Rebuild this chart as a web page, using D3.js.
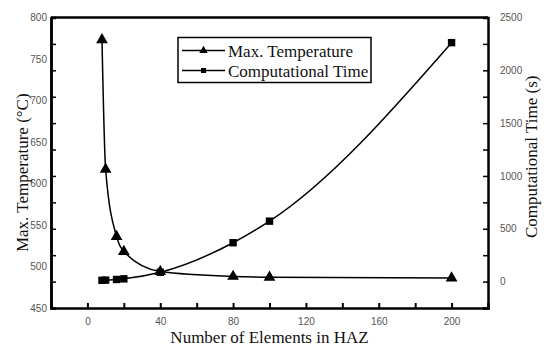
<!DOCTYPE html>
<html>
<head>
<meta charset="utf-8">
<script src="https://cdn.jsdelivr.net/npm/d3@7"></script>
<style>
  body { margin: 0; background: #fff; }
  svg { display: block; }
</style>
</head>
<body>
<svg id="chart" width="550" height="356"></svg>
<script>
// Data
const elements = [8, 10, 16, 20, 40, 80, 100, 200];
const maxTemperature = [773, 617, 536, 518, 494, 488, 487, 486];
const compTime = [12, 14, 20, 26, 88, 368, 572, 2262];
const xTicks = [0, 40, 80, 120, 160, 200];
const leftTicks = [450, 500, 550, 600, 650, 700, 750, 800];
const rightTicks = [0, 500, 1000, 1500, 2000, 2500];

// Plot area
const size = { left: 51, right: 488, top: 17.5, bottom: 308 };
const svg = d3.select('#chart');

const x = d3.scaleLinear().domain([-20, 220]).range([size.left, size.right]);
const yL = d3.scaleLinear().domain([450, 800]).range([size.bottom, size.top]);
const yR = d3.scaleLinear().domain([-250, 2500]).range([size.bottom, size.top]);

const serifFont = "Liberation Serif";
const sansFont = "Liberation Sans";

// Bottom axis: ticks pointing inward
const xAxis = svg.append("g")
    .attr("transform", `translate(0,${size.bottom})`)
    .call(d3.axisBottom(x).tickValues(d3.range(0, 201, 20)).tickSize(-5).tickPadding(10)
        .tickFormat(d => xTicks.includes(d) ? d : ""));

// Left axis: labels only, tick marks drawn at right axis positions (as in the original)
const yAxisL = svg.append("g")
    .attr("transform", `translate(${size.left},0)`)
    .call(d3.axisLeft(yL).tickValues(leftTicks).tickSize(0).tickPadding(4));
const yAxisLTicks = svg.append("g")
    .attr("transform", `translate(${size.left},0)`)
    .call(d3.axisLeft(yR).tickValues(d3.range(-250, 2501, 250)).tickSize(-5).tickFormat(""));

// Right axis
const yAxisR = svg.append("g")
    .attr("transform", `translate(${size.right},0)`)
    .call(d3.axisRight(yR).tickValues(d3.range(-250, 2501, 250)).tickSize(-5).tickPadding(12)
        .tickFormat(d => rightTicks.includes(d) ? d : ""));

// Top frame line
svg.append("line")
    .attr("x1", size.left).attr("x2", size.right)
    .attr("y1", size.top).attr("y2", size.top)
    .attr("stroke", "#000").attr("stroke-width", 2.5);

[xAxis, yAxisL, yAxisLTicks, yAxisR].forEach(g => {
    g.attr("font-family", sansFont).attr("font-size", 10);
    g.select(".domain").attr("stroke", "#000").attr("stroke-width", 2.5);
    g.selectAll(".tick line").attr("stroke", "#000").attr("stroke-width", 1.5);
    g.selectAll("text").attr("fill", "#555");
});
xAxis.selectAll(".tick line").attr("stroke-width", 2);

// Lines
const tempLine = d3.line()
    .x((d, i) => x(elements[i]))
    .y(d => yL(d))
    .curve(d3.curveMonotoneX);
const timeLine = d3.line()
    .x((d, i) => x(elements[i]))
    .y(d => yR(d))
    .curve(d3.curveMonotoneX);

svg.append("path")
    .attr("d", tempLine(maxTemperature))
    .attr("fill", "none").attr("stroke", "#000").attr("stroke-width", 1.5);
svg.append("path")
    .attr("d", timeLine(compTime))
    .attr("fill", "none").attr("stroke", "#000").attr("stroke-width", 1.5);

const triangle = d3.symbol().type(d3.symbolTriangle).size(60);
const square = d3.symbol().type(d3.symbolSquare).size(55);

svg.selectAll(".tri")
    .data(maxTemperature)
    .enter().append("path")
    .attr("class", "tri")
    .attr("d", triangle)
    .attr("transform", (d, i) => `translate(${x(elements[i])},${yL(d)})`)
    .attr("fill", "#000");

svg.selectAll(".sq")
    .data(compTime)
    .enter().append("path")
    .attr("class", "sq")
    .attr("d", square)
    .attr("transform", (d, i) => `translate(${x(elements[i])},${yR(d)})`)
    .attr("fill", "#000");

// Legend
const legend = svg.append("g").attr("transform", "translate(178,37.5)");
legend.append("rect")
    .attr("width", 193).attr("height", 45)
    .attr("fill", "#fff").attr("stroke", "#000").attr("stroke-width", 1.5);

const legendItems = [
    { label: "Max. Temperature", symbol: d3.symbol().type(d3.symbolTriangle).size(30) },
    { label: "Computational Time", symbol: d3.symbol().type(d3.symbolSquare).size(25) }
];
legendItems.forEach((item, i) => {
    const yy = 13 + i * 20;
    legend.append("line")
        .attr("x1", 4).attr("x2", 47).attr("y1", yy).attr("y2", yy)
        .attr("stroke", "#000").attr("stroke-width", 1.5);
    legend.append("path")
        .attr("d", item.symbol)
        .attr("transform", `translate(25.5,${yy})`)
        .attr("fill", "#000");
    legend.append("text")
        .attr("x", 50).attr("y", yy + 6)
        .style("font-family", serifFont).style("font-size", "17px")
        .attr("fill", "#111")
        .text(item.label);
});

// Axis titles
svg.append("text")
    .attr("transform", `translate(${(size.left + size.right) / 2},343)`)
    .attr("text-anchor", "middle")
    .style("font-family", serifFont).style("font-size", "17px")
    .attr("fill", "#111")
    .text("Number of Elements in HAZ");

svg.append("text")
    .attr("transform", `translate(28,${(size.top + size.bottom) / 2 + 10}) rotate(-90)`)
    .attr("text-anchor", "middle")
    .style("font-family", serifFont).style("font-size", "17px")
    .attr("fill", "#111")
    .text("Max. Temperature (°C)");

svg.append("text")
    .attr("transform", `translate(537,${(size.top + size.bottom) / 2 - 6}) rotate(-90)`)
    .attr("text-anchor", "middle")
    .style("font-family", serifFont).style("font-size", "17px")
    .attr("fill", "#111")
    .text("Computational Time (s)");
</script>
</body>
</html>
